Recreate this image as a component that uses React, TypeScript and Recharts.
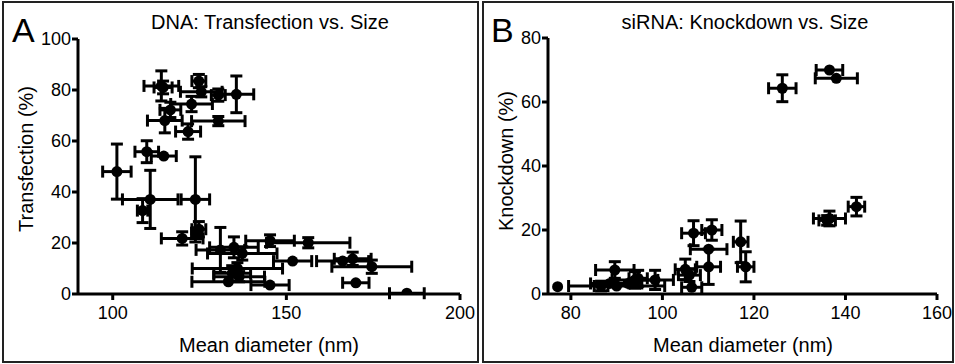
import { ErrorBar, Scatter, ScatterChart, XAxis, YAxis } from "recharts";

// Panel A: DNA transfection vs. particle size (mean ± SD)
const dnaSize = [
  101.2, 110.8, 108.6, 109.8, 114.7, 123.8, 124.8, 124.2, 120, 115, 114, 114.5, 116.6,
  122.7, 125.5, 124.8, 130.4, 135.6, 130.4, 121.7, 145.3, 156.3, 134.9, 131, 137.3,
  151.8, 166.2, 169.1, 174.6, 135.9, 134.4, 136.4, 133.3, 145.3, 170, 184.7,
];
const dnaSizeSd = [
  4.1, 8, 1.5, 3.4, 3.6, 4.1, 2, 1.5, 6, 5, 5, 2.6, 3, 6, 6, 2, 2, 5, 7.7, 3.6, 7,
  12, 7, 7, 10, 5.5, 7.5, 5.3, 11.5, 13, 5.3, 7.3, 10.5, 5.5, 3.8, 5,
];
const dnaTransfection = [
  48, 37.1, 32.7, 55.8, 54.1, 37.1, 25.4, 24, 21.8, 68, 81.6, 81, 72.2, 74.5, 79.3,
  83.5, 78, 78.3, 67.8, 63.7, 20.9, 20.1, 18.3, 17.3, 15.9, 12.9, 12.9, 13.8, 10.7,
  10, 8.1, 6.8, 4.8, 3.5, 4.4, 0.3,
];
const dnaTransfectionSd = [
  10.8, 11.4, 4.7, 4.3, null, 16.7, 3, 2, 2.6, 4.8, 5.9, 2.5, 3, 3, 2, 2.6, 2.4, 7.2,
  1.8, 3, 2.3, 2, 4.1, 8.8, 2.6, null, null, 2.6, 2.6, 2.3, 3, 2, null, null, null, null,
];

// Panel B: siRNA knockdown vs. particle size (mean ± SD)
const sirnaSize = [
  126.2, 136.5, 138, 142.4, 136.5, 136, 106.8, 110.8, 110.1, 110.1, 117.1, 118.2, 105,
  105.9, 106.4, 89.6, 77.1, 90, 86.6, 94, 98.4, 92.5, 94.7, 88.5,
];
const sirnaSizeSd = [
  3, 2.9, 4.6, 1.8, 3.5, 1.8, 2.6, 2.2, 4, 2.6, 1.6, 1.8, 2.2, 2.4, 2.2, 4.2, null,
  10.5, 1.5, 5, 4, 3, 2, 4.2,
];
const sirnaKnockdown = [
  64.3, 70, 67.4, 27.3, 23.6, 23, 19, 20, 14, 8.5, 16.3, 8.5, 7.7, 5.9, 2.1, 7.5, 2.3,
  2.5, 2.5, 4.4, 4.4, 3.3, 4.9, 3.3,
];
const sirnaKnockdownSd = [
  4.2, null, null, 2.9, 2.3, 1.5, 3.9, 3.2, null, 5.5, 6.5, 4.7, 3.2, 2, null, 2.6,
  null, null, 1.5, 2.6, 3, null, 2.5, null,
];

const dnaTicksX = [100, 150, 200];
const dnaTicksY = [0, 20, 40, 60, 80, 100];
const sirnaTicksX = [80, 100, 120, 140, 160];
const sirnaTicksY = [0, 20, 40, 60, 80];

const dnaData = dnaSize.map((x, i) => ({
  x,
  y: dnaTransfection[i],
  ex: dnaSizeSd[i],
  ey: dnaTransfectionSd[i],
}));
const sirnaData = sirnaSize.map((x, i) => ({
  x,
  y: sirnaKnockdown[i],
  ex: sirnaSizeSd[i],
  ey: sirnaKnockdownSd[i],
}));

const FONT = "'Liberation Sans', Arial, Helvetica, sans-serif";
const tick = { fill: "#000", fontSize: 18, fontFamily: FONT };
const axisLine = { stroke: "#000", strokeWidth: 3 };
const tickLine = { stroke: "#000", strokeWidth: 3 };

const Dot = (props: any) => <circle cx={props.cx} cy={props.cy} r={5.5} fill="#000" />;

interface PanelProps {
  data: { x: number; y: number; ex: number | null; ey: number | null }[];
  width: number;
  left: number;
  right: number;
  top: number;
  yWidth: number;
  xDomain: [number, number];
  yDomain: [number, number];
  xTicks: number[];
  yTicks: number[];
}

function Panel({ data, width, left, right, top, yWidth, xDomain, yDomain, xTicks, yTicks }: PanelProps) {
  return (
    <ScatterChart width={width} height={364} margin={{ top, right, bottom: 4, left }}>
      <XAxis
        type="number"
        dataKey="x"
        domain={xDomain}
        ticks={xTicks}
        allowDataOverflow
        height={66}
        tick={tick}
        tickSize={6}
        tickMargin={6}
        axisLine={axisLine}
        tickLine={tickLine}
      />
      <YAxis
        type="number"
        dataKey="y"
        domain={yDomain}
        ticks={yTicks}
        allowDataOverflow
        width={yWidth}
        tick={tick}
        tickSize={6}
        tickMargin={1}
        axisLine={axisLine}
        tickLine={tickLine}
      />
      <Scatter data={data} shape={Dot} isAnimationActive={false}>
        <ErrorBar dataKey="ex" direction="x" width={6} stroke="#000" strokeWidth={3} />
        <ErrorBar dataKey="ey" direction="y" width={6} stroke="#000" strokeWidth={3} />
      </Scatter>
    </ScatterChart>
  );
}

export default function App() {
  const txt = { fontFamily: FONT, fill: "#000" };
  return (
    <div style={{ position: "fixed", left: 0, top: 0, width: 955, height: 364, background: "#fff" }}>
      <div style={{ position: "absolute", left: 0, top: 0 }}>
        <Panel
          data={dnaData}
          width={480}
          left={4}
          right={20}
          top={39}
          yWidth={74}
          xDomain={[90, 200]}
          yDomain={[0, 100]}
          xTicks={dnaTicksX}
          yTicks={dnaTicksY}
        />
      </div>
      <div style={{ position: "absolute", left: 480, top: 0 }}>
        <Panel
          data={sirnaData}
          width={475}
          left={4}
          right={18}
          top={38}
          yWidth={64}
          xDomain={[75, 160]}
          yDomain={[0, 80]}
          xTicks={sirnaTicksX}
          yTicks={sirnaTicksY}
        />
      </div>
      <div style={{ position: "absolute", left: 2, top: 1, width: 473, height: 358, border: "2px solid #222" }} />
      <div style={{ position: "absolute", left: 482, top: 1, width: 468, height: 358, border: "2px solid #222" }} />
      <svg width={955} height={364} style={{ position: "absolute", left: 0, top: 0, pointerEvents: "none" }}>
        <text x={12} y={42} fontSize={34} {...txt}>A</text>
        <text x={270} y={29} fontSize={20} textAnchor="middle" {...txt}>DNA: Transfection vs. Size</text>
        <text x={269} y={352} fontSize={20} textAnchor="middle" {...txt}>Mean diameter (nm)</text>
        <text x={33} y={159} fontSize={20} textAnchor="middle" transform="rotate(-90 33 159)" {...txt}>
          Transfection (%)
        </text>
        <text x={491} y={42} fontSize={34} {...txt}>B</text>
        <text x={745} y={29} fontSize={20} textAnchor="middle" {...txt}>siRNA: Knockdown vs. Size</text>
        <text x={743} y={352} fontSize={20} textAnchor="middle" {...txt}>Mean diameter (nm)</text>
        <text x={513} y={161} fontSize={20} textAnchor="middle" transform="rotate(-90 513 161)" {...txt}>
          Knockdown (%)
        </text>
      </svg>
    </div>
  );
}
